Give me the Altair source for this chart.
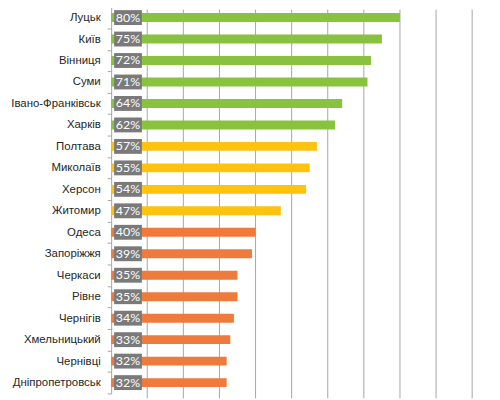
import altair as alt
import pandas as pd

cities = ["Луцьк", "Київ", "Вінниця", "Суми", "Івано-Франківськ", "Харків",
          "Полтава", "Миколаїв", "Херсон", "Житомир",
          "Одеса", "Запоріжжя", "Черкаси", "Рівне", "Чернігів", "Хмельницький",
          "Чернівці", "Дніпропетровськ"]
values = [80, 75, 72, 71, 64, 62, 57, 55, 54, 47, 40, 39, 35, 35, 34, 33, 32, 32]
groups = ["high"] * 6 + ["mid"] * 4 + ["low"] * 8
group_names = ["high", "mid", "low"]
group_colors = ["#89c23f", "#ffc20e", "#ee7a3b"]
grid_values = [10, 20, 30, 40, 50, 60, 70, 80, 90, 100]

df = pd.DataFrame({"city": cities, "value": values, "group": groups})
grid_df = pd.DataFrame({"g": grid_values})

W = 364
H = 392

x_scale = alt.Scale(domain=[0, 100], nice=False)

y_axis = alt.Axis(labelFont="Liberation Sans", labelFontSize=11.5, labelColor="#262626",
                  labelPadding=7, tickSize=4, tickBand="extent", tickColor="#a6a6a6",
                  domainColor="#a6a6a6", grid=False, title=None)
y_scale = alt.Scale(range=[-2.8, 386.9], paddingInner=0, paddingOuter=0)

grid = alt.Chart(grid_df).mark_rule(color="#a6a6a6", strokeWidth=1).encode(
    x=alt.X("g:Q", scale=x_scale, axis=None),
)

base = alt.Chart(df)

bars = base.mark_bar(size=9).encode(
    x=alt.X("value:Q", scale=x_scale, axis=None),
    y=alt.Y("city:N", sort=None, scale=y_scale, axis=y_axis),
    color=alt.Color("group:N", scale=alt.Scale(domain=group_names, range=group_colors), legend=None),
)

boxes = base.mark_bar(size=15, color="#7a7a7a", xOffset=3, x2Offset=31).encode(
    x=alt.X("zero:Q", scale=x_scale, axis=None),
    x2="zero2:Q",
    y=alt.Y("city:N", sort=None, scale=y_scale, axis=y_axis),
).transform_calculate(zero="0", zero2="0")

labels = base.transform_calculate(label="datum.value + '%'", zero="0").mark_text(
    font="Lato", fontSize=12.5, color="white", dx=17, align="center", baseline="middle"
).encode(
    x=alt.X("zero:Q", scale=x_scale, axis=None),
    y=alt.Y("city:N", sort=None, scale=y_scale, axis=y_axis),
    text="label:N",
)

chart = alt.layer(grid, bars, boxes, labels).properties(
    width=W, height=H,
    autosize=alt.AutoSizeParams(type="none"),
    padding={"left": 104, "top": 0, "right": 20, "bottom": 0},
).configure_view(stroke=None)

chart.save("out.html", embed_options={"renderer": "svg", "actions": False})
